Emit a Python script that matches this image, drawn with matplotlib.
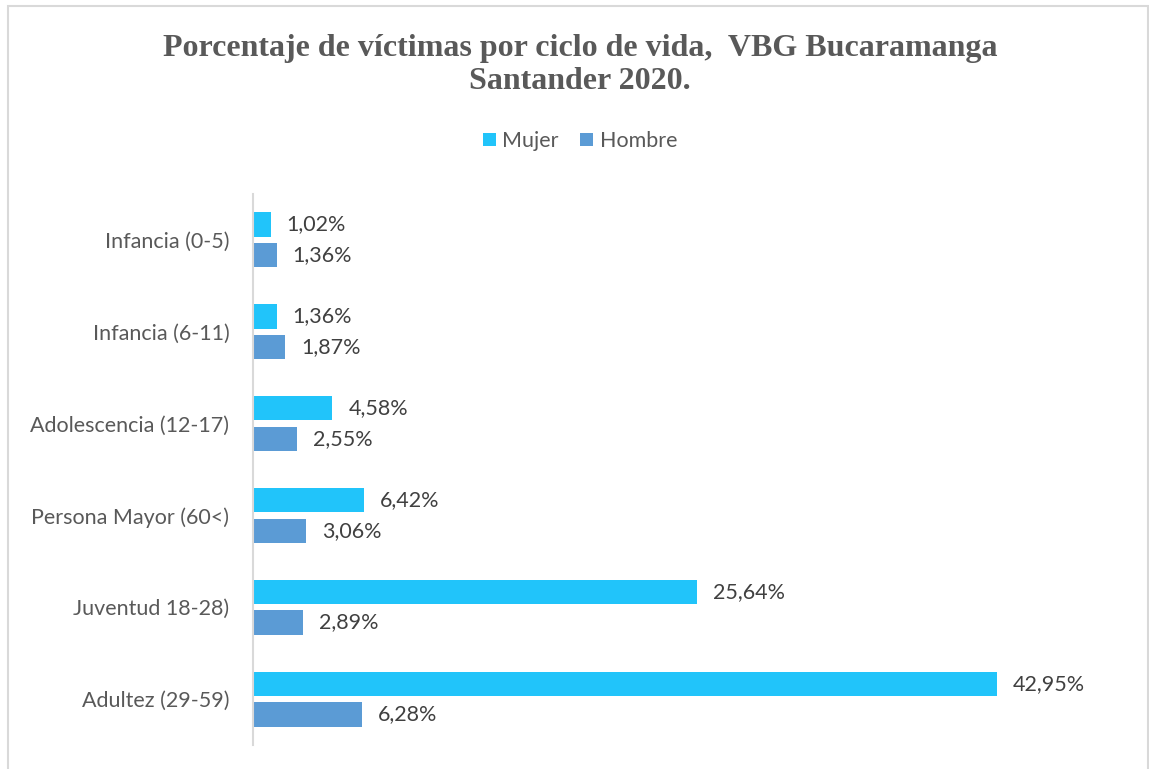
import matplotlib.pyplot as plt
from matplotlib.patches import Rectangle
import numpy as np

categories = ['Infancia (0-5)', 'Infancia (6-11)', 'Adolescencia (12-17)',
              'Persona Mayor (60<)', 'Juventud 18-28)', 'Adultez (29-59)']
mujer = [1.02, 1.36, 4.58, 6.42, 25.64, 42.95]
hombre = [1.36, 1.87, 2.55, 3.06, 2.89, 6.28]

c_mujer = '#21C4FA'
c_hombre = '#5B9BD5'
gray = '#595959'

plt.rcParams['font.family'] = ['Lato', 'DejaVu Sans']

fig = plt.figure(figsize=(11.49, 7.69), dpi=100)
# outer chart border (bottom edge falls off the image)
fig.patches.append(Rectangle((8 / 1149, -0.05), 1140 / 1149, 1.05 - 6 / 769,
                             transform=fig.transFigure, fill=False,
                             edgecolor='#D9D9D9', linewidth=1.5))

ax = fig.add_axes([253 / 1149, 24 / 769, 866 / 1149, 551 / 769])

y = np.arange(len(categories))
h = 0.265
off = 0.167
b1 = ax.barh(y - off, mujer, height=h, color=c_mujer, label='Mujer')
b2 = ax.barh(y + off, hombre, height=h, color=c_hombre, label='Hombre')

for bars, vals in ((b1, mujer), (b2, hombre)):
    for bar, v in zip(bars, vals):
        ax.annotate(f'{v:.2f}%'.replace('.', ','),
                    (bar.get_width(), bar.get_y() + bar.get_height() / 2),
                    xytext=(16, 0), textcoords='offset pixels',
                    va='center', ha='left', fontsize=15.5, color='#404040')

ax.set_xlim(0, 50)
ax.set_ylim(5.5, -0.5)
ax.set_yticks(y)
ax.set_yticklabels(categories, fontsize=15.5, color=gray)
ax.tick_params(axis='y', length=0, pad=17)
ax.set_xticks([])
for s in ('top', 'right', 'bottom'):
    ax.spines[s].set_visible(False)
ax.spines['left'].set_color('#D9D9D9')
ax.spines['left'].set_linewidth(1.5)

fig.text(580 / 1149, 1 - 65 / 769,
         'Porcentaje de víctimas por ciclo de vida,  VBG Bucaramanga\nSantander 2020.',
         ha='center', va='center', fontsize=23, fontweight='bold', color=gray,
         family=['Liberation Serif', 'DejaVu Serif'], linespacing=1.2)

fig.legend(handles=[b1, b2], loc='center', bbox_to_anchor=(580 / 1149, 1 - 141 / 769),
           ncol=2, frameon=False, fontsize=15.5, labelcolor=gray,
           handlelength=0.6, handleheight=0.6, handletextpad=0.3, columnspacing=1.0)

fig.savefig('out.png', dpi=100)
